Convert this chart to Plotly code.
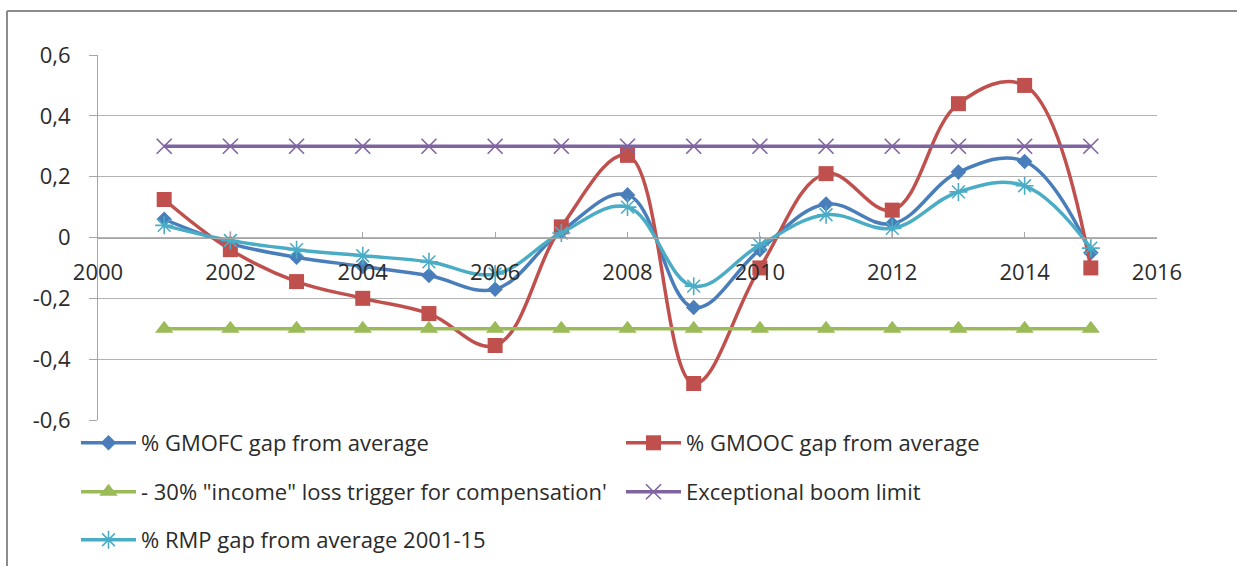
import plotly.graph_objects as go

years = [2001, 2002, 2003, 2004, 2005, 2006, 2007, 2008, 2009, 2010, 2011, 2012, 2013, 2014, 2015]
gmofc = [0.06, -0.02, -0.065, -0.095, -0.125, -0.17, 0.02, 0.14, -0.23, -0.04, 0.11, 0.045, 0.215, 0.25, -0.05]
gmooc = [0.125, -0.04, -0.145, -0.20, -0.25, -0.355, 0.035, 0.27, -0.48, -0.10, 0.21, 0.09, 0.44, 0.50, -0.10]
trigger = [-0.3] * 15
boom = [0.3] * 15
rmp = [0.04, -0.01, -0.04, -0.06, -0.08, -0.12, 0.015, 0.10, -0.16, -0.025, 0.075, 0.03, 0.15, 0.17, -0.035]

names = ['% GMOFC gap from average', '% GMOOC gap from average',
         '- 30% "income" loss trigger for compensation\'', 'Exceptional boom limit',
         '% RMP gap from average 2001-15']
y_tickvals = [-0.6, -0.4, -0.2, 0, 0.2, 0.4, 0.6]
y_ticktext = ['-0,6', '-0,4', '-0,2', '0', '0,2', '0,4', '0,6']
x_tickvals = [2000, 2002, 2004, 2006, 2008, 2010, 2012, 2014, 2016]
x_ticktext = ['2000', '2002', '2004', '2006', '2008', '2010', '2012', '2014', '2016']

FONT = 'Open Sans'
FS = 22
TXT = '#2b2b2b'
W, H = 1237, 566
L, R, T, B = 98, 80, 55, 146
pw, ph = W - L - R, H - T - B

def px2x(p):
    return (p - L) / pw

def px2y(p):
    return (H - B - p) / ph

fig = go.Figure()
series = [
    (gmofc, names[0], '#4A7EBB', dict(symbol='diamond', size=12), 'legend'),
    (gmooc, names[1], '#C0504D', dict(symbol='square', size=15), 'legend'),
    (trigger, names[2], '#9BBB59', dict(symbol='triangle-up', size=16), 'legend2'),
    (boom, names[3], '#8064A2', dict(symbol='x-thin', size=15, line=dict(width=1.6, color='#8064A2')), 'legend2'),
    (rmp, names[4], '#4BACC6', dict(symbol='asterisk', size=15, line=dict(width=1.6, color='#4BACC6')), 'legend3'),
]
for ys, nm, col, mk, lg in series:
    mk = dict(mk)
    mk['color'] = col
    fig.add_trace(go.Scatter(x=years, y=ys, name=nm, mode='lines+markers',
                             line=dict(color=col, width=3.5, shape='spline', smoothing=1.1),
                             marker=mk, legend=lg))

leg_common = dict(orientation='h', xanchor='left', yanchor='middle',
                  font=dict(family=FONT, size=FS, color=TXT),
                  itemwidth=55, entrywidth=475, entrywidthmode='pixels',
                  bgcolor='rgba(0,0,0,0)', borderwidth=0, itemclick=False)

fig.update_layout(
    width=W, height=H,
    margin=dict(l=L, r=R, t=T, b=B, autoexpand=False),
    paper_bgcolor='white', plot_bgcolor='white',
    font=dict(family=FONT, size=FS, color=TXT),
    xaxis=dict(range=[2000, 2016], anchor='free', position=0.5,
               tickvals=x_tickvals, ticktext=x_ticktext,
               showgrid=False, zeroline=False, showline=True, linecolor='#a6a6a6', linewidth=1,
               ticks='inside', ticklen=6, tickcolor='#a6a6a6', ticklabelstandoff=15,
               tickfont=dict(family=FONT, size=FS, color=TXT)),
    yaxis=dict(range=[-0.6, 0.6], tickvals=y_tickvals, ticktext=y_ticktext,
               showgrid=True, gridcolor='#b3b3b3', gridwidth=1, zeroline=False,
               showline=True, linecolor='#a6a6a6', linewidth=1,
               ticks='outside', ticklen=8, tickcolor='#a6a6a6', ticklabelstandoff=14,
               tickfont=dict(family=FONT, size=FS, color=TXT)),
    legend=dict(x=px2x(76), y=px2y(443), **leg_common),
    legend2=dict(x=px2x(76), y=px2y(492), **leg_common),
    legend3=dict(x=px2x(76), y=px2y(540), **leg_common),
    showlegend=True,
    shapes=[
        dict(type='line', xref='paper', yref='paper', x0=px2x(7), x1=px2x(1237), y0=px2y(11), y1=px2y(11),
             line=dict(color='#8c8c8c', width=2)),
        dict(type='line', xref='paper', yref='paper', x0=px2x(7), x1=px2x(7), y0=px2y(11), y1=px2y(566),
             line=dict(color='#8c8c8c', width=2)),
    ],
)

fig.write_html('out.html', config={'displayModeBar': False},
               post_script="document.body.style.margin='0';document.body.style.overflow='hidden';")
